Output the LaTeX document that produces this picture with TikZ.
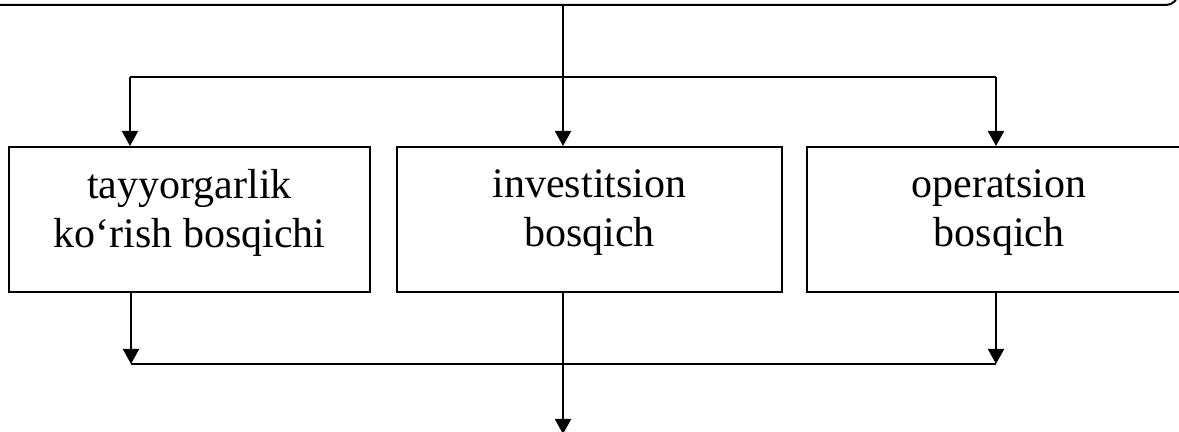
\documentclass[tikz,border=0pt]{standalone}
\usepackage{fontspec}
\setmainfont{Liberation Serif}
\usetikzlibrary{arrows.meta, positioning}

\begin{document}
\begin{tikzpicture}[x=0.5pt, y=-0.5pt, >={Triangle[width=8pt,length=7.5pt]}, line width=1pt,
  node distance=12pt,
  stage/.style={draw, align=center, minimum height=72.5pt, inner sep=0pt, text depth=11.4pt, font=\fontsize{21}{24.5}\selectfont},
  plan/.style={draw, rounded corners=6pt, minimum width=604pt, minimum height=42.5pt}]
\useasboundingbox (0,0) rectangle (1179,432);
\clip (0,0) rectangle (1179,432);
\node[plan] (goal) at (574,-37.5) {};
\node[stage, minimum width=180.5pt] (prep) at (189.5,219.5) {tayyorgarlik\\ ko‘rish bosqichi};
\node[stage, minimum width=192.5pt, right=12.5pt of prep] (invest) {investitsion\\ bosqich};
\node[stage, minimum width=192pt, right=11.5pt of invest] (oper) {operatsion\\ bosqich};
\coordinate (fork) at (563,77);
\coordinate (forkL) at (130,77);
\coordinate (forkR) at (996,77);
\coordinate (joinL) at (131,364);
\coordinate (joinR) at (996,364);
\coordinate (out) at (563,434);
\draw[->] (goal.south -| fork) -- (invest.north -| fork);
\draw (forkL) -- (forkR);
\draw[->] (forkL) -- (prep.north -| forkL);
\draw[->] (forkR) -- (oper.north -| forkR);
\draw[->] (prep.south -| joinL) -- (joinL);
\draw[->] (oper.south -| joinR) -- (joinR);
\draw (joinL) -- (joinR);
\draw[->] (invest.south -| fork) -- (out);
\end{tikzpicture}
\end{document}
